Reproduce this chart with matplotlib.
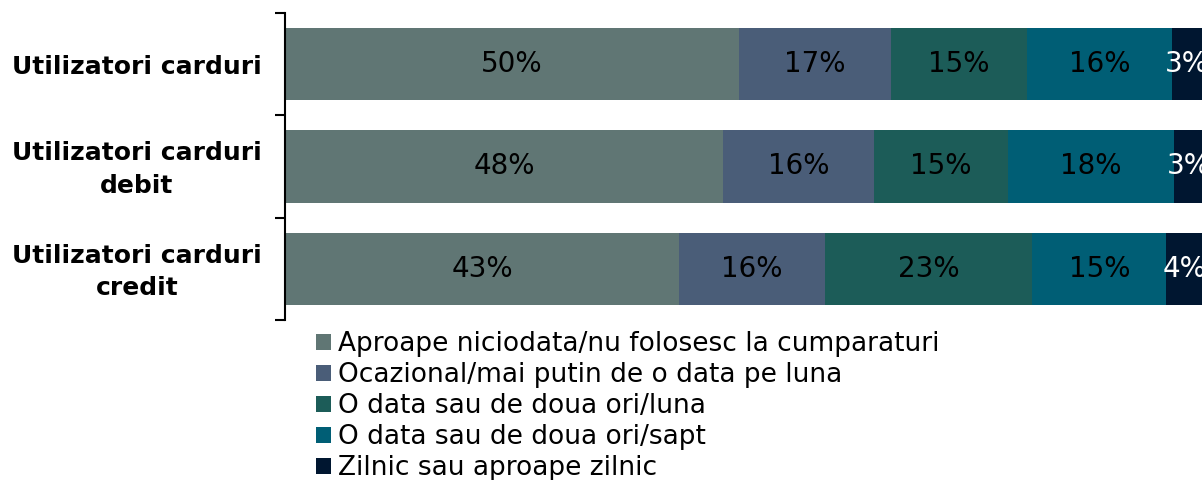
import matplotlib.pyplot as plt
import matplotlib.transforms as mtransforms
import numpy as np
from matplotlib.patches import Patch

categories = ['Utilizatori carduri', 'Utilizatori carduri\ndebit', 'Utilizatori carduri\ncredit']
series_names = ['Aproape niciodata/nu folosesc la cumparaturi',
                'Ocazional/mai putin de o data pe luna',
                'O data sau de doua ori/luna',
                'O data sau de doua ori/sapt',
                'Zilnic sau aproape zilnic']
# share of respondents (%), one list per series, rows follow categories
aproape_niciodata = [49.5, 47.8, 43.0]
ocazional = [16.6, 16.4, 15.9]
lunar = [14.8, 14.6, 22.6]
saptamanal = [15.8, 18.1, 14.6]
zilnic = [3.3, 3.3, 3.9]
series = [aproape_niciodata, ocazional, lunar, saptamanal, zilnic]

colors = ['#607674', '#4a5d78', '#1c5c58', '#005e75', '#001630']
text_colors = ['black', 'black', 'black', 'black', 'white']

fig = plt.figure(figsize=(12.02, 4.8), dpi=100)
ax = fig.add_axes([285 / 1202, 1 - 320 / 480, 1 - 285 / 1202, 307 / 480])

y = np.arange(len(categories))
left = np.zeros(len(categories))
for vals, col, tc in zip(series, colors, text_colors):
    vals = np.array(vals)
    ax.barh(y, vals, left=left, height=0.71, color=col)
    for yi, l, v in zip(y, left, vals):
        # last labels run past the right edge, as in the original
        ax.text(l + v / 2, yi, f'{round(v)}%', ha='center', va='center',
                fontsize=20, color=tc, clip_on=False)
    left = left + vals

ax.set_xlim(0, 100)
ax.set_ylim(2.5, -0.5)
ax.set_yticks([-0.5, 0.5, 1.5, 2.5])
ax.set_yticklabels([])
ax.tick_params(axis='y', length=7, width=1.5, direction='out')
ax.set_xticks([])
for s in ['top', 'right', 'bottom']:
    ax.spines[s].set_visible(False)
ax.spines['left'].set_linewidth(1.5)

trans = mtransforms.blended_transform_factory(fig.transFigure, ax.transData)
for yi, cat in zip(y, categories):
    ax.text(137 / 1202, yi + 0.03, cat, transform=trans, ha='center', va='center',
            fontsize=18, fontweight='bold', linespacing=1.45, multialignment='center')

handles = [Patch(facecolor=c) for c in colors]
fig.legend(handles, series_names, loc='upper left', bbox_to_anchor=(316 / 1202, 1 - 331 / 480),
           frameon=False, fontsize=19, handlelength=0.55, handleheight=0.55,
           handletextpad=0.3, labelspacing=0.19, borderpad=0, borderaxespad=0)

fig.savefig('out.png', dpi=100)
